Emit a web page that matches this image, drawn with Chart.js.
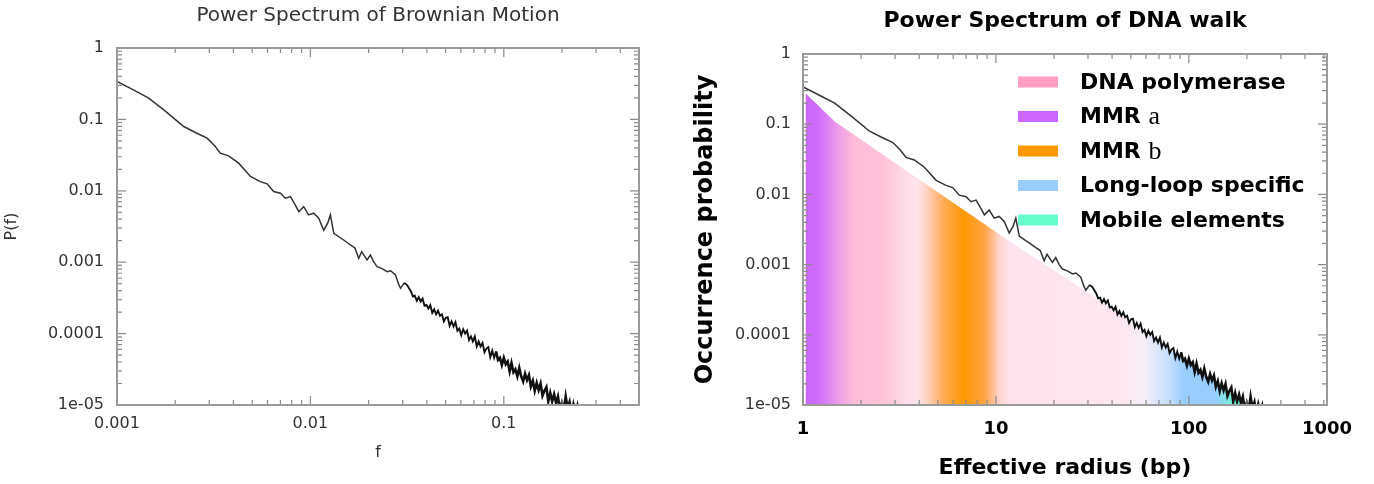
<!DOCTYPE html>
<html>
<head>
<meta charset="utf-8">
<title>Power spectra</title>
<script src="https://cdn.jsdelivr.net/npm/chart.js@4.4.1/dist/chart.umd.min.js"></script>
<style>
  html, body { margin: 0; padding: 0; background: #fff; }
  #wrap { position: relative; width: 1374px; height: 484px; overflow: hidden; }
  .panel { position: absolute; top: 0; width: 687px; height: 484px; }
  #left { left: 0; }
  #right { left: 687px; }
</style>
</head>
<body>
<div id="wrap">
  <div class="panel" id="left"><canvas id="brownChart" width="687" height="484"></canvas></div>
  <div class="panel" id="right"><canvas id="dnaChart" width="687" height="484"></canvas></div>
</div>
<script>
// --- data ---

// left panel: frequency f
const brownFreq = [
  0.001, 0.001202, 0.001459, 0.001778, 0.002213, 0.002570, 0.002924, 0.003199, 0.003420, 0.003776,
  0.004256, 0.004898, 0.005508, 0.005970, 0.006457, 0.006998, 0.007430, 0.007889, 0.008356, 0.008710,
  0.009226, 0.009795, 0.01040, 0.01104, 0.01172, 0.01230, 0.01268, 0.01321, 0.01396, 0.01486,
  0.01611, 0.01698, 0.01778, 0.01841, 0.01963, 0.02042, 0.02128, 0.02213, 0.02344, 0.02495,
  0.02600, 0.02754, 0.02851, 0.02924, 0.03055, 0.03162,
  0.03311, 0.03388, 0.03467, 0.03548, 0.03631, 0.03715, 0.03802, 0.03890, 0.03981, 0.04074,
  0.04169, 0.04266, 0.04365, 0.04467, 0.04571, 0.04677, 0.04786, 0.04898, 0.05012, 0.05129,
  0.05248, 0.05370, 0.05495, 0.05623, 0.05754, 0.05888, 0.06026, 0.06166, 0.06310, 0.06457,
  0.06607, 0.06761, 0.06918, 0.07079, 0.07244, 0.07413, 0.07586, 0.07762, 0.07943, 0.08128,
  0.08318, 0.08511, 0.08710, 0.08913, 0.09120, 0.09333, 0.09550, 0.09772, 0.1000, 0.1023,
  0.1047, 0.1072, 0.1096, 0.1122, 0.1148, 0.1175, 0.1202, 0.1230, 0.1259, 0.1288,
  0.1318, 0.1349, 0.1380, 0.1413, 0.1445, 0.1479, 0.1514, 0.1549, 0.1585, 0.1622,
  0.1660, 0.1698, 0.1738, 0.1778, 0.1820, 0.1862, 0.1905, 0.1950, 0.1995, 0.2042,
  0.2089, 0.2138, 0.2188, 0.2239, 0.2291, 0.2344, 0.2399, 0.2455, 0.2512
];

// right panel: effective radius (bp), same walk
const dnaRadius = [
  1, 1.202, 1.459, 1.778, 2.213, 2.570, 2.924, 3.199, 3.420, 3.776,
  4.256, 4.898, 5.508, 5.970, 6.457, 6.998, 7.430, 7.889, 8.356, 8.710,
  9.226, 9.795, 10.40, 11.04, 11.72, 12.30, 12.68, 13.21, 13.96, 14.86,
  16.11, 16.98, 17.78, 18.41, 19.63, 20.42, 21.28, 22.13, 23.44, 24.95,
  26.00, 27.54, 28.51, 29.24, 30.55, 31.62,
  33.11, 33.88, 34.67, 35.48, 36.31, 37.15, 38.02, 38.90, 39.81, 40.74,
  41.69, 42.66, 43.65, 44.67, 45.71, 46.77, 47.86, 48.98, 50.12, 51.29,
  52.48, 53.70, 54.95, 56.23, 57.54, 58.88, 60.26, 61.66, 63.10, 64.57,
  66.07, 67.61, 69.18, 70.79, 72.44, 74.13, 75.86, 77.62, 79.43, 81.28,
  83.18, 85.11, 87.10, 89.13, 91.20, 93.33, 95.50, 97.72, 100.0, 102.3,
  104.7, 107.2, 109.6, 112.2, 114.8, 117.5, 120.2, 123.0, 125.9, 128.8,
  131.8, 134.9, 138.0, 141.3, 144.5, 147.9, 151.4, 154.9, 158.5, 162.2,
  166.0, 169.8, 173.8, 177.8, 182.0, 186.2, 190.5, 195.0, 199.5, 204.2,
  208.9, 213.8, 218.8, 223.9, 229.1, 234.4, 239.9, 245.5, 251.2
];

// P(f) / occurrence probability (both panels show the same curve)
const spectrum = [
  0.3404, 0.2630, 0.1991, 0.1303, 0.07943, 0.06457, 0.05470, 0.04266, 0.03365, 0.03090,
  0.02438, 0.01585, 0.01346, 0.01250, 0.009750, 0.009247, 0.007870, 0.008299, 0.006310, 0.005105,
  0.005998, 0.004592, 0.004853, 0.004130, 0.002805, 0.003548, 0.004592, 0.002541, 0.002291, 0.002046,
  0.001742, 0.001585, 0.001135, 0.001403, 0.001074, 0.001259, 0.001000, 8.650e-4, 8.128e-4, 7.362e-4,
  7.586e-4, 6.607e-4, 5.012e-4, 4.305e-4, 5.129e-4, 4.786e-4,
  3.890e-4, 3.311e-4, 3.388e-4, 2.884e-4, 3.236e-4, 2.818e-4, 3.090e-4, 2.455e-4, 2.512e-4, 2.239e-4,
  2.512e-4, 1.950e-4, 2.188e-4, 1.862e-4, 2.089e-4, 1.778e-4, 1.862e-4, 1.479e-4, 1.660e-4, 1.698e-4,
  1.288e-4, 1.479e-4, 1.259e-4, 1.445e-4, 1.096e-4, 1.175e-4, 9.550e-5, 1.148e-4, 1.000e-4, 1.096e-4,
  8.128e-5, 9.120e-5, 7.762e-5, 9.120e-5, 6.607e-5, 7.762e-5, 6.607e-5, 7.413e-5, 5.495e-5, 6.166e-5,
  6.457e-5, 4.677e-5, 5.754e-5, 4.571e-5, 5.623e-5, 4.266e-5, 4.571e-5, 3.631e-5, 4.571e-5, 3.715e-5,
  4.074e-5, 2.951e-5, 3.890e-5, 2.884e-5, 3.162e-5, 2.512e-5, 3.311e-5, 2.512e-5, 2.138e-5, 2.754e-5,
  2.239e-5, 2.630e-5, 1.820e-5, 2.188e-5, 1.585e-5, 2.042e-5, 1.622e-5, 1.995e-5, 1.349e-5, 1.585e-5,
  1.778e-5, 1.122e-5, 1.479e-5, 1.122e-5, 1.413e-5, 1.072e-5, 1.318e-5, 8.511e-6, 1.072e-5, 8.318e-6,
  1.318e-5, 8.913e-6, 1.096e-5, 7.413e-6, 1.023e-5, 7.943e-6, 9.772e-6, 6.310e-6, 7.943e-6
];

// upper edge of the coloured region on the right
const fillRadius = [1.03, 1.46, 3.39, 12.2, 34.4, 101, 196];
const fillTop = [0.275, 0.109, 0.0223, 0.00201, 0.000313, 0.0000393, 0.00001];

const xTicksLeft = ['0.001', '0.01', '0.1'];
const xTicksRight = ['1', '10', '100', '1000'];
const yTicks = ['1e-05', '0.0001', '0.001', '0.01', '0.1', '1'];

const legendNames = ['DNA polymerase', 'MMR', 'MMR', 'Long-loop specific', 'Mobile elements'];
const legendSuffix = ['', 'a', 'b', '', ''];
const legendColors = ['#ff9ebd', '#cc66ff', '#ff9900', '#99ccff', '#66ffcc'];

// colour bands along the radius axis (value, colour)
const bandStops = [
  [1.0, '#cc66ff'], [1.2, '#cf6cfb'], [1.55, '#eea0e8'], [1.85, '#ffbcd8'], [2.6, '#ffc2d8'],
  [3.4, '#ffdce8'], [3.9, '#ffe4ec'], [4.4, '#ffd2c0'], [5.3, '#ffac5a'], [6.8, '#ff9900'],
  [8.8, '#ffa448'], [10.4, '#ffd4cc'], [11.8, '#ffe3ec'], [45, '#ffe6ef'], [58, '#f6eef7'],
  [75, '#cfe2fd'], [95, '#99ccff'], [135, '#99ccff'], [165, '#75eedb'], [190, '#66ffcc']
];

Chart.defaults.font.family = "'DejaVu Sans', sans-serif";

const toPoints = (xs, ys) => xs.map((x, i) => ({ x: x, y: ys[i] }));

function decadeLabel(labels, firstExp) {
  return function (value) {
    const e = Math.log10(value);
    const r = Math.round(e);
    if (Math.abs(e - r) > 1e-6) return '';
    return labels[r - firstExp] || '';
  };
}

// the noisy high-frequency end is drawn heavier, as in the picture
function noisySegments(mid, high) {
  return {
    borderWidth: c => c.p0.parsed.x >= high ? 2.6 : c.p0.parsed.x >= mid ? 1.9 : undefined,
    borderColor: c => c.p0.parsed.x >= mid ? '#111' : undefined
  };
}

// gnuplot style box with inward ticks on all four sides
const gnuplotFrame = {
  id: 'gnuplotFrame',
  afterDatasetsDraw(chart, args, opts) {
    const { ctx, chartArea: area, scales } = chart;
    const isStep = v => {
      const e = Math.floor(Math.log10(v) + 1e-9);
      const m = v / Math.pow(10, e);
      return Math.abs(m - Math.round(m)) < 1e-6;
    };
    const isDecade = v => Math.abs(Math.log10(v) - Math.round(Math.log10(v))) < 1e-6;
    ctx.save();
    ctx.strokeStyle = opts.tickColor;
    ctx.lineWidth = 1.2;
    ctx.beginPath();
    scales.x.ticks.forEach(t => {
      if (!isStep(t.value)) return;
      const px = scales.x.getPixelForValue(t.value);
      const len = isDecade(t.value) ? opts.major : opts.minor;
      ctx.moveTo(px, area.bottom); ctx.lineTo(px, area.bottom - len);
      ctx.moveTo(px, area.top); ctx.lineTo(px, area.top + len);
    });
    scales.y.ticks.forEach(t => {
      if (!isStep(t.value)) return;
      const py = scales.y.getPixelForValue(t.value);
      const len = isDecade(t.value) ? opts.major : opts.minor;
      ctx.moveTo(area.left, py); ctx.lineTo(area.left + len, py);
      ctx.moveTo(area.right, py); ctx.lineTo(area.right - len, py);
    });
    ctx.stroke();
    ctx.lineWidth = opts.frameWidth;
    ctx.strokeStyle = opts.frameColor;
    ctx.strokeRect(area.left, area.top, area.width, area.height);
    ctx.restore();
  }
};

// legend inside the plot, with the serif a / b
const bandLegend = {
  id: 'bandLegend',
  afterDraw(chart, args, opts) {
    const { ctx, chartArea: area } = chart;
    ctx.save();
    ctx.textBaseline = 'middle';
    legendNames.forEach((name, i) => {
      const y = area.top + opts.top + i * opts.rowGap;
      ctx.fillStyle = legendColors[i];
      ctx.fillRect(area.left + opts.boxLeft, y - opts.boxH / 2, opts.boxW, opts.boxH);
      ctx.fillStyle = '#000';
      ctx.font = opts.font;
      const tx = area.left + opts.textLeft;
      ctx.fillText(name, tx, y + 1);
      if (legendSuffix[i]) {
        const w = ctx.measureText(name + ' ').width;
        ctx.font = opts.serifFont;
        ctx.fillText(legendSuffix[i], tx + w, y + 1);
      }
    });
    ctx.restore();
  }
};

function bandGradient(context) {
  const chart = context.chart;
  const area = chart.chartArea;
  if (!area) return 'rgba(0,0,0,0)';
  const xs = chart.scales.x;
  const g = chart.ctx.createLinearGradient(area.left, 0, area.right, 0);
  bandStops.forEach(([v, c]) => {
    const p = (xs.getPixelForValue(v) - area.left) / area.width;
    g.addColorStop(Math.min(1, Math.max(0, p)), c);
  });
  return g;
}

const noGrid = { display: false, drawTicks: false };

// Left: Brownian motion
new Chart(document.getElementById('brownChart'), {
  type: 'line',
  data: {
    datasets: [{
      data: toPoints(brownFreq, spectrum),
      borderColor: '#333',
      borderWidth: 1.5,
      pointRadius: 0,
      tension: 0,
      segment: noisySegments(0.03, 0.09)
    }]
  },
  options: {
    responsive: false,
    animation: false,
    devicePixelRatio: 1,
    layout: { padding: { left: 0, right: 48, top: 0, bottom: 0 } },
    plugins: {
      legend: { display: false },
      tooltip: { enabled: false },
      title: {
        display: true,
        text: 'Power Spectrum of Brownian Motion',
        fullSize: false,
        color: '#333',
        font: { size: 20, weight: 'normal' },
        padding: { top: 4, bottom: 20 }
      },
      gnuplotFrame: { frameColor: '#9a9a9a', tickColor: '#8a8a8a', frameWidth: 2, major: 9, minor: 5 }
    },
    scales: {
      x: {
        type: 'logarithmic',
        min: 0.001,
        max: 0.5,
        grid: noGrid,
        border: { display: false },
        ticks: { autoSkip: false, maxRotation: 0, padding: 9, color: '#333', font: { size: 16 },
                 callback: decadeLabel(xTicksLeft, -3) },
        title: { display: true, text: 'f', color: '#333', font: { size: 16 }, padding: { top: 0, bottom: 22 } },
        afterFit: s => { s.height = 79; }
      },
      y: {
        type: 'logarithmic',
        min: 1e-5,
        max: 1,
        grid: noGrid,
        border: { display: false },
        ticks: { autoSkip: false, padding: 13, color: '#333', font: { size: 16 },
                 callback: decadeLabel(yTicks, -5) },
        title: { display: true, text: 'P(f)', color: '#333', font: { size: 16 }, padding: { top: 2, bottom: 0 } },
        afterFit: s => { s.width = 117; }
      }
    }
  },
  plugins: [gnuplotFrame]
});

// Right: DNA walk
const rightLabel = decadeLabel(xTicksRight, 0);
new Chart(document.getElementById('dnaChart'), {
  type: 'line',
  data: {
    datasets: [{
      data: toPoints(dnaRadius, spectrum),
      borderColor: '#333',
      borderWidth: 1.5,
      pointRadius: 0,
      tension: 0,
      segment: noisySegments(30, 90),
      order: 0
    }, {
      data: toPoints(fillRadius, fillTop),
      borderWidth: 0,
      pointRadius: 0,
      tension: 0,
      fill: 'start',
      backgroundColor: bandGradient,
      order: 1
    }]
  },
  options: {
    responsive: false,
    animation: false,
    devicePixelRatio: 1,
    layout: { padding: { left: 0, right: 47, top: 0, bottom: 0 } },
    plugins: {
      legend: { display: false },
      tooltip: { enabled: false },
      title: {
        display: true,
        text: 'Power Spectrum of DNA walk',
        fullSize: false,
        color: '#000',
        font: { size: 22, weight: 'bold' },
        padding: { top: 8, bottom: 19.6 }
      },
      gnuplotFrame: { frameColor: '#9a9a9a', tickColor: '#8a8a8a', frameWidth: 2, major: 9, minor: 5 },
      bandLegend: {
        top: 28, rowGap: 34.5, boxLeft: 215, boxW: 40, boxH: 11, textLeft: 277,
        font: "bold 22px 'DejaVu Sans'", serifFont: "26px 'Liberation Serif'"
      }
    },
    scales: {
      x: {
        type: 'logarithmic',
        min: 1,
        max: 520,
        grid: noGrid,
        border: { display: false },
        ticks: {
          autoSkip: false, maxRotation: 0, padding: 14, color: '#000', font: { size: 18, weight: 'bold' },
          // the picture puts its last label, 1000, at the right end of the axis
          callback: (v, i, ticks) => i === ticks.length - 1 ? xTicksRight[xTicksRight.length - 1] : rightLabel(v)
        },
        title: { display: true, text: 'Effective radius (bp)', color: '#000', font: { size: 22, weight: 'bold' },
                 padding: { top: 0, bottom: 3 } },
        afterFit: s => { s.height = 79; }
      },
      y: {
        type: 'logarithmic',
        min: 1e-5,
        max: 1,
        grid: noGrid,
        border: { display: false },
        ticks: { autoSkip: false, padding: 12, color: '#333', font: { size: 16 },
                 callback: decadeLabel(yTicks, -5) },
        title: { display: true, text: 'Occurrence probability', color: '#000', font: { size: 24, weight: 'bold' },
                 padding: { top: 4, bottom: 0 } },
        afterFit: s => { s.width = 116; }
      }
    }
  },
  plugins: [gnuplotFrame, bandLegend]
});
</script>
</body>
</html>
